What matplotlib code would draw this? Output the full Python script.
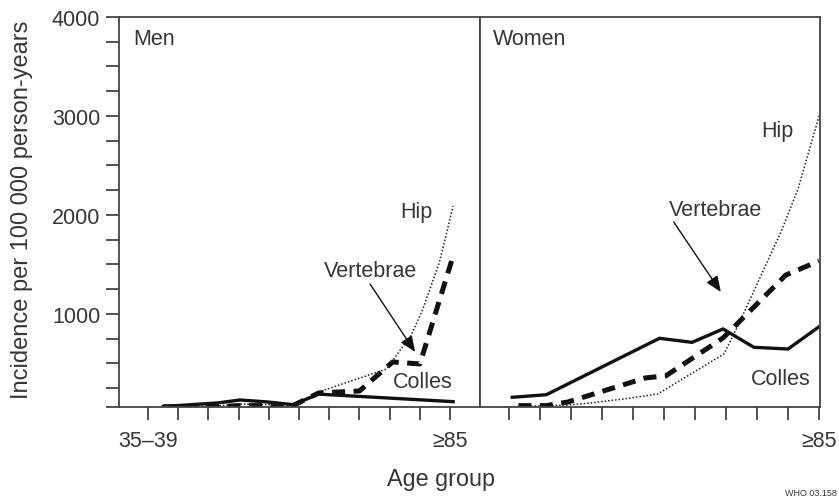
import numpy as np
import matplotlib
matplotlib.use('Agg')
from matplotlib import pyplot as plt

plt.rcParams['font.family'] = ['Liberation Sans', 'DejaVu Sans']

# age groups (tick positions 0..10)
age_ticks = list(range(11))
men_tick_labels = ['35\u201339'] + [''] * 9 + ['\u226585']
women_tick_labels = [''] * 10 + ['\u226585']

# incidence per 100 000 person-years
men_colles_x = [0.5, 2.3, 3.05, 3.95, 4.8, 5.65, 10.1]
men_colles = [65, 101, 131, 111, 84, 190, 114]
men_vert_x = [0.5, 2.3, 3.05, 4.8, 5.65, 7.0, 8.1, 9.0, 10.1]
men_vert = [62, 65, 74, 74, 202, 222, 515, 495, 1586]
men_hip_x = [0.5, 2.3, 3.05, 4.8, 5.65, 7.9, 8.35, 8.7, 9.1, 9.65, 10.1]
men_hip = [62, 72, 90, 78, 212, 444, 636, 778, 1050, 1525, 2090]

women_colles_x = [0.1, 1.2, 4.85, 5.9, 6.9, 7.9, 9.0, 10.0]
women_colles = [158, 184, 754, 713, 848, 663, 646, 871]
women_vert_x = [0.3, 1.2, 1.9, 4.4, 5.05, 6.9, 8.93, 10.0]
women_vert = [74, 74, 111, 354, 374, 757, 1394, 1535]
women_hip_x = [-0.2, 1.9, 2.6, 3.7, 4.8, 6.93, 7.38, 8.03, 8.77, 9.32, 10.0]
women_hip = [60, 80, 100, 141, 192, 596, 879, 1323, 1828, 2262, 3000]

ymin, ymax = 60, 4000
ytick_vals = [ymin] + list(range(250, 4001, 250))
ytick_labels = [str(v) if v % 1000 == 0 else '' for v in ytick_vals]

txt_col = '#363636'
frame_col = '#444444'
line_col = '#111111'
fs = 15.5

W, H = 839, 502
fig = plt.figure(figsize=(W / 100, H / 100), dpi=100)
bot = (H - 408) / H
hgt = (408 - 18) / H
ax1 = fig.add_axes([119 / W, bot, (480 - 119) / W, hgt])
ax2 = fig.add_axes([480 / W, bot, (820 - 480) / W, hgt])


def draw_lines(ax, cx, cy, vx, vy, hx, hy):
    ax.plot(hx, hy, color='#222222', lw=1.1, ls=(0, (1, 1.3)))
    ax.plot(vx, vy, color=line_col, lw=3.6, ls=(0, (2.6, 1.7)), dash_capstyle='butt')
    ax.plot(cx, cy, color=line_col, lw=2.4, solid_joinstyle='miter')


draw_lines(ax1, men_colles_x, men_colles, men_vert_x, men_vert, men_hip_x, men_hip)
draw_lines(ax2, women_colles_x, women_colles, women_vert_x, women_vert, women_hip_x, women_hip)

ax1.set_xlim(-0.96, 10.99)
ax2.set_xlim(-0.94, 10.03)

for ax, labels in ((ax1, men_tick_labels), (ax2, women_tick_labels)):
    ax.set_ylim(ymin, ymax)
    ax.set_xticks(age_ticks)
    ax.set_xticklabels(labels)
    for sp in ax.spines.values():
        sp.set_color(frame_col)
        sp.set_linewidth(1.3)
    ax.tick_params(axis='both', direction='out', length=9.5, width=1.3,
                   color=frame_col, labelsize=fs, labelcolor=txt_col, pad=7)

ax1.set_yticks(ytick_vals)
ax1.set_yticklabels(ytick_labels)
ax1.tick_params(axis='y', pad=4)
ax2.tick_params(axis='y', left=False, labelleft=False)

ax1.text(0.039, 0.972, 'Men', transform=ax1.transAxes, ha='left', va='top',
         fontsize=fs, color=txt_col)
ax2.text(0.038, 0.972, 'Women', transform=ax2.transAxes, ha='left', va='top',
         fontsize=fs, color=txt_col)

arrow = dict(arrowstyle='-|>,head_length=0.6,head_width=0.25', color=line_col,
             lw=1.0, mutation_scale=16, shrinkA=0, shrinkB=0)

# men annotations
ax1.text(8.34, 2040, 'Hip', ha='left', va='center', fontsize=fs, color=txt_col)
ax1.text(7.38, 1444, 'Vertebrae', ha='center', va='center', fontsize=fs, color=txt_col)
ax1.annotate('', xy=(8.84, 616), xytext=(7.35, 1303), arrowprops=arrow)
ax1.text(9.1, 313, 'Colles', ha='center', va='center', fontsize=fs, color=txt_col)

# women annotations
ax2.text(8.67, 2858, 'Hip', ha='center', va='center', fontsize=fs, color=txt_col)
ax2.text(6.67, 2060, 'Vertebrae', ha='center', va='center', fontsize=fs, color=txt_col)
ax2.annotate('', xy=(6.83, 1222), xytext=(5.31, 1929), arrowprops=arrow)
ax2.text(8.77, 343, 'Colles', ha='center', va='center', fontsize=fs, color=txt_col)

fig.text(22 / W, 1 - 210 / H, 'Incidence per 100 000 person-years', rotation=90,
         ha='center', va='center', fontsize=17, color=txt_col)
fig.text(441 / W, 1 - 480 / H, 'Age group', ha='center', va='center',
         fontsize=16.8, color=txt_col)
fig.text(837 / W, 1 - 494 / H, 'WHO 03.158', ha='right', va='center',
         fontsize=6.5, color=txt_col)

plt.savefig('out.png', dpi=100)
